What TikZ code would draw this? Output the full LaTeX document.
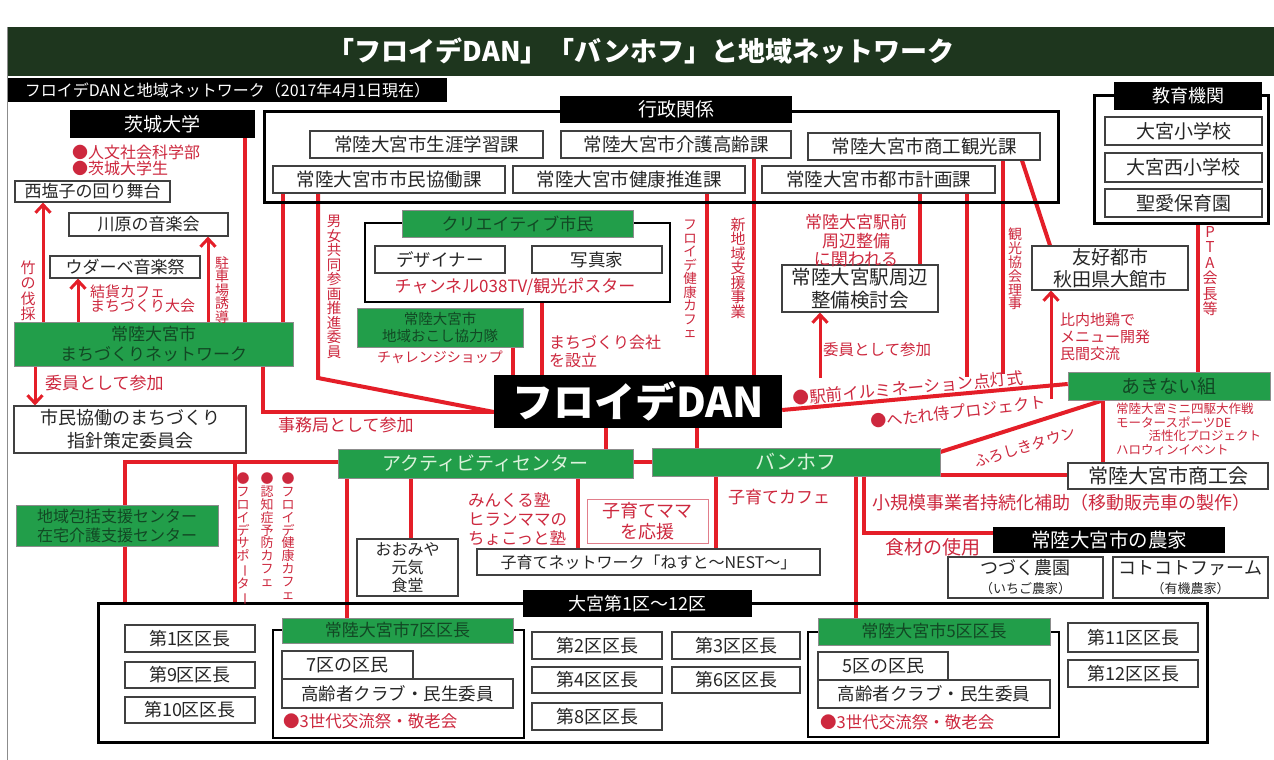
\documentclass[tikz,border=0pt]{standalone}
\usepackage{fontspec}
\setmainfont{Noto Sans CJK JP}
\usetikzlibrary{arrows.meta}
\definecolor{lred}{RGB}{228,30,40}
\definecolor{tred}{RGB}{205,40,62}
\definecolor{gfill}{RGB}{34,158,74}
\definecolor{gtext}{RGB}{18,72,36}
\definecolor{gtextl}{RGB}{220,242,220}
\definecolor{tgreen}{RGB}{30,54,30}
\pgfdeclarelayer{bg}
\pgfsetlayers{bg,main}
\newcommand{\fsz}[2]{\fontsize{#1}{#2}\selectfont}
\newcommand{\vb}{\rotatebox[origin=c]{-90}{ー}}
\newcommand{\rbox}[7]{\node[#1, minimum width={(#5-#3)*1pt}, minimum height={(#6-#4)*1pt}] (#2) at ({(#3+#5)/2},{(#4+#6)/2}) {#7};}
\begin{document}
\begin{tikzpicture}[x=1pt,y=-1pt,
 ibox/.style={draw=black!75, line width=1.1pt, fill=white, inner sep=0pt, align=center, text=black!85, font=\fsz{17}{20}},
 ibig/.style={ibox, font=\fsz{18.5}{21}},
 gbox/.style={draw=black!45, line width=0.6pt, fill=gfill, inner sep=0pt, align=center, text=gtext, font=\fsz{17}{20}},
 kbox/.style={fill=black, inner sep=0pt, align=center, text=white, font=\fsz{18}{20}},
 grp/.style={draw=black, line width=3pt, inner sep=0pt},
 rl/.style={draw=lred, line width=4pt},
 ra/.style={draw=lred, line width=3pt, -{Straight Barb[length=8pt,width=15pt]}},
 rt/.style={text=tred, inner sep=0pt, align=left, font=\fsz{16}{19}},
 vt/.style={text=tred, inner sep=0pt, align=center, font=\fsz{14}{14.5}}
]
\useasboundingbox (0,0) rectangle (1274,760);
\begin{pgfonlayer}{bg}
\fill[white] (0,0) rectangle (1274,760);
\end{pgfonlayer}
\draw[black!45, line width=1pt] (7,27) -- (7,760);
% title
\rbox{fill=tgreen, inner sep=0pt, text=white, font=\bfseries\fsz{27}{30}}{title}{8}{27}{1274}{76}{「フロイデDAN」「バンホフ」と地域ネットワーク}
\rbox{kbox, font=\fsz{16}{18}}{sub}{8}{78}{447}{102}{フロイデDANと地域ネットワーク（2017年4月1日現在）}
% Ibaraki
\rbox{kbox, font=\fsz{19}{21}}{ibaraki}{70}{110}{255}{138}{茨城大学}
\node[rt, anchor=west] (l_jinbun) at (72,152) {●人文社会科学部};
\node[rt, anchor=west] (l_gakusei) at (72,168) {●茨城大学生};
\rbox{ibox}{nishi}{15}{181}{170}{202}{西塩子の回り舞台}
\rbox{ibox}{kawa}{69}{213}{228}{236}{川原の音楽会}
\rbox{ibox}{uda}{50}{256}{200}{278}{ウダーベ音楽祭}
\rbox{gbox}{net}{14}{322}{293}{366}{常陸大宮市\\まちづくりネットワーク}
\rbox{ibox, font=\fsz{18}{23}}{shimin}{14}{406}{246}{453}{市民協働のまちづくり\\指針策定委員会}
% gyosei
\rbox{grp}{gyosei}{264}{111}{1058}{202}{}
\rbox{kbox, font=\fsz{19}{21}}{gtab}{560}{96}{792}{123}{行政関係}
\rbox{ibig}{shogai}{310}{131}{543}{158}{常陸大宮市生涯学習課}
\rbox{ibig}{kaigo}{561}{131}{791}{158}{常陸大宮市介護高齢課}
\rbox{ibig}{shoko}{808}{133}{1040}{160}{常陸大宮市商工観光課}
\rbox{ibig}{kyodo}{273}{166}{505}{193}{常陸大宮市市民協働課}
\rbox{ibig}{kenko}{513}{166}{745}{193}{常陸大宮市健康推進課}
\rbox{ibig}{toshi}{762}{166}{995}{193}{常陸大宮市都市計画課}
% kyoiku
\rbox{grp}{kyoiku}{1094}{95}{1268}{223}{}
\rbox{kbox, font=\fsz{18}{20}}{ktab}{1114}{82}{1262}{110}{教育機関}
\rbox{ibox, font=\fsz{19}{21}}{omiyasho}{1105}{117}{1262}{145}{大宮小学校}
\rbox{ibox, font=\fsz{19}{21}}{nishisho}{1105}{153}{1262}{182}{大宮西小学校}
\rbox{ibox, font=\fsz{19}{21}}{seiai}{1105}{189}{1262}{217}{聖愛保育園}
\rbox{ibox, font=\fsz{19}{22}}{yuko}{1032}{246}{1188}{290}{友好都市\\秋田県大館市}
\rbox{ibox, font=\fsz{19.5}{23}}{eki}{782}{265}{938}{312}{常陸大宮駅周辺\\整備検討会}
% creative
\rbox{grp, line width=2.5pt}{crea}{365}{223}{670}{302}{}
\rbox{gbox}{ctab}{402}{210}{633}{237}{クリエイティブ市民}
\rbox{ibox, font=\fsz{17.5}{20}}{designer}{375}{246}{505}{273}{デザイナー}
\rbox{ibox, font=\fsz{17.5}{20}}{photo}{532}{246}{662}{273}{写真家}
\node[rt, font=\fsz{17}{19}] (l_channel) at (515,287) {チャンネル038TV/観光ポスター};
\rbox{gbox, font=\fsz{14.5}{17}}{okoshi}{357}{308}{523}{347}{常陸大宮市\\地域おこし協力隊}
\node[rt, font=\fsz{14}{16}] (l_challenge) at (440,357) {チャレンジショップ};
% DAN
\rbox{kbox, font=\bfseries\fsz{41}{44}}{dan}{494}{375}{782}{428}{フロイデDAN}
\rbox{gbox, font=\fsz{19}{21}}{akinai}{1068}{372}{1270}{400}{あきない組}
\rbox{ibox, font=\fsz{20}{22}}{shokokai}{1068}{463}{1268}{489}{常陸大宮市商工会}
\rbox{kbox, font=\fsz{19.5}{22}}{noka}{993}{527}{1225}{553}{常陸大宮市の農家}
\rbox{ibox, font=\fsz{18}{19}}{tsuzuku}{948}{557}{1103}{598}{つづく農園\\\fsz{13}{15}（いちご農家）}
\rbox{ibox, font=\fsz{18}{19}}{kotokoto}{1113}{557}{1268}{598}{コトコトファーム\\\fsz{13}{15}（有機農家）}
\rbox{gbox, text=gtextl, font=\fsz{19}{21}}{act}{338}{449}{633}{478}{アクティビティセンター}
\rbox{gbox, text=gtextl, font=\fsz{20}{22}}{banhof}{652}{448}{940}{476}{バンホフ}
\rbox{gbox, font=\fsz{16}{19}}{hokatsu}{16}{505}{218}{546}{地域包括支援センター\\在宅介護支援センター}
\rbox{ibox, font=\fsz{16}{18}}{genki}{357}{539}{458}{596}{おおみや\\元気\\食堂}
\rbox{draw=tred!60, line width=0.8pt, fill=white, inner sep=0pt, align=center, text=tred, font=\fsz{18}{21}}{mama}{587}{499}{708}{543}{子育てママ\\を応援}
\rbox{ibox, font=\fsz{16}{18}}{kosodate}{477}{549}{820}{575}{子育てネットワーク「ねすと〜NEST〜」}
% districts
\rbox{grp}{omiya}{98}{603}{1207}{742}{}
\rbox{kbox, font=\fsz{18}{20}}{otab}{523}{590}{752}{617}{大宮第1区〜12区}
\rbox{ibox, font=\fsz{18}{20}}{k1}{125}{625}{255}{652}{第1区区長}
\rbox{ibox, font=\fsz{18}{20}}{k9}{125}{662}{255}{688}{第9区区長}
\rbox{ibox, font=\fsz{18}{20}}{k10}{125}{697}{255}{723}{第10区区長}
\rbox{grp, line width=2.5pt}{ku7}{273}{630}{524}{738}{}
\rbox{gbox, font=\fsz{17}{20}}{ku7tab}{282}{618}{513}{643}{常陸大宮市7区区長}
\rbox{ibox, font=\fsz{18}{20}}{ku7min}{282}{651}{413}{679}{7区の区民}
\rbox{ibox, font=\fsz{17.5}{20}}{ku7kou}{282}{679}{513}{708}{高齢者クラブ・民生委員}
\node[rt, anchor=west, font=\fsz{16.5}{19}] (l_fest7) at (283,721) {●3世代交流祭・敬老会};
\rbox{ibox, font=\fsz{18}{20}}{k2}{532}{632}{662}{659}{第2区区長}
\rbox{ibox, font=\fsz{18}{20}}{k3}{672}{632}{800}{659}{第3区区長}
\rbox{ibox, font=\fsz{18}{20}}{k4}{532}{667}{662}{693}{第4区区長}
\rbox{ibox, font=\fsz{18}{20}}{k6}{672}{667}{800}{693}{第6区区長}
\rbox{ibox, font=\fsz{18}{20}}{k8}{532}{703}{662}{730}{第8区区長}
\rbox{grp, line width=2.5pt}{ku5}{808}{632}{1059}{737}{}
\rbox{gbox, font=\fsz{17}{20}}{ku5tab}{818}{618}{1050}{645}{常陸大宮市5区区長}
\rbox{ibox, font=\fsz{18}{20}}{ku5min}{818}{652}{948}{680}{5区の区民}
\rbox{ibox, font=\fsz{17.5}{20}}{ku5kou}{818}{680}{1050}{708}{高齢者クラブ・民生委員}
\node[rt, anchor=west, font=\fsz{16.5}{19}] (l_fest5) at (820,722) {●3世代交流祭・敬老会};
\rbox{ibox, font=\fsz{18}{20}}{k11}{1068}{623}{1198}{652}{第11区区長}
\rbox{ibox, font=\fsz{18}{20}}{k12}{1068}{660}{1198}{687}{第12区区長}
% labels
\node[vt, font=\fsz{15}{15.5}] (l_take) at (28,291) {竹\\の\\伐\\採};
\node[rt, anchor=west, font=\fsz{15}{14.5}] (l_yuika) at (90,299) {結貨カフェ\\まちづくり大会};
\node[vt, font=\fsz{14}{13.5}] (l_chusha) at (222,290) {駐\\車\\場\\誘\\導};
\node[rt, anchor=west, font=\fsz{17}{19}] (l_iin1) at (45,383) {委員として参加};
\node[rt, anchor=west, font=\fsz{17}{19}] (l_jimu) at (278,425) {事務局として参加};
\node[vt, font=\fsz{14.5}{14.5}] (l_danjo) at (334,287) {男\\女\\共\\同\\参\\画\\推\\進\\委\\員};
\node[rt, anchor=west, font=\fsz{16}{18}] (l_kaisha) at (549,351) {まちづくり会社\\を設立};
\node[vt, font=\fsz{13.5}{13.5}] (l_kcafe) at (690,279) {フ\\ロ\\イ\\デ\\健\\康\\カ\\フ\\ェ};
\node[vt, font=\fsz{15}{14.5}] (l_shinchiiki) at (738,268) {新\\地\\域\\支\\援\\事\\業};
\node[rt, align=center, font=\fsz{17}{18.5}] (l_ekimae) at (856,241) {常陸大宮駅前\\周辺整備\\に関われる};
\node[rt, anchor=west, font=\fsz{15.5}{18}] (l_iin2) at (823,350) {委員として参加};
\node[vt, font=\fsz{14}{13.8}] (l_kanko) at (1015,269) {観\\光\\協\\会\\理\\事};
\node[vt, font=\fsz{15}{15.5}] (l_pta) at (1210,271) {P\\T\\A\\会\\長\\等};
\node[rt, rotate=5.2, font=\fsz{16.5}{19}] (l_illum) at (908,388) {●駅前イルミネーション点灯式};
\node[rt, rotate=6.5, font=\fsz{16}{19}] (l_hetare) at (958,412) {●へたれ侍プロジェクト};
\node[rt, rotate=17, font=\fsz{15}{18}] (l_furo) at (1025,447) {ふろしきタウン};
\node[rt, anchor=west, font=\fsz{15}{17}] (l_hinai) at (1060,337) {比内地鶏で\\メニュー開発\\民間交流};
\node[rt, anchor=north west, font=\fsz{12.5}{13.5}] (l_mini4) at (1116,403) {常陸大宮ミニ四駆大作戦\\モータースポーツDE\\\hspace{2.6em}活性化プロジェクト\\ハロウィンイベント};
\node[rt, anchor=west, font=\fsz{18}{20}] (l_shokibo) at (872,503) {小規模事業者持続化補助（移動販売車の製作）};
\node[rt, anchor=west, font=\fsz{19}{20}] (l_shokuzai) at (885,547) {食材の使用};
\node[rt, anchor=west, font=\fsz{16.5}{19}] (l_minkuru) at (468,519) {みんくる塾\\ヒランママの\\ちょこっと塾};
\node[rt, anchor=west, font=\fsz{17}{19}] (l_kcafe2) at (728,497) {子育てカフェ};
\node[vt, anchor=north, font=\fsz{13}{12.8}] (l_support) at (243,473) {●\\フ\\ロ\\イ\\デ\\サ\\ポ\\\vb\\タ\\\vb};
\node[vt, anchor=north, font=\fsz{13}{12.8}] (l_ninchi) at (267,473) {●\\認\\知\\症\\予\\防\\カ\\フ\\ェ};
\node[vt, anchor=north, font=\fsz{13}{12.8}] (l_kcafe3) at (288,473) {●\\フ\\ロ\\イ\\デ\\健\\康\\カ\\フ\\ェ};
\coordinate (a_eki) at (820,378);
\coordinate (a_hinai) at (1051,399);
\coordinate (e_toshi) at (967,377);
\coordinate (e_shoko) at (1003,374);
% connectors
\begin{pgfonlayer}{bg}
\draw[ra] (net.north -| 43,0) -- (nishi.south -| 43,0);
\draw[ra] (net.north -| 78,0) -- (uda.south -| 78,0);
\draw[ra] (net.north -| 208,0) -- (kawa.south -| 208,0);
\draw[rl] (ibaraki.south -| 245,0) -- (net.north -| 245,0);
\draw[rl] (kyodo.south -| 283,0) -- (net.north -| 283,0);
\draw[rl] (kyodo.south -| 318,0) -- (318,378) -- (dan.west |- 0,412);
\draw[rl] (net.south -| 263,0) -- (263,412) -- (dan.west |- 0,412);
\draw[ra] (net.south -| 35,0) -- (shimin.north -| 35,0);
\draw[rl] (okoshi.south -| 513,0) -- (dan.north -| 513,0);
\draw[rl] (crea.south -| 542,0) -- (dan.north -| 542,0);
\draw[rl] (kenko.south -| 707,0) -- (dan.north -| 707,0);
\draw[rl] (kaigo.south -| 754,0) -- (dan.north -| 754,0);
\draw[rl] (toshi.south -| 920,0) -- (eki.north -| 920,0);
\draw[ra] (a_eki) -- (eki.south -| 820,0);
\draw[rl] (dan.east |- 0,410) -- (akinai.west |- 0,384);
\draw[rl] (toshi.south -| 967,0) -- (e_toshi);
\draw[rl] (shoko.south -| 1003,0) -- (e_shoko);
\draw[rl] (shoko.south -| 1022,0) -- (yuko.north -| 1050,0);
\draw[ra] (a_hinai) -- (yuko.south -| a_hinai);
\draw[rl] (kyoiku.south -| 1198,0) -- (akinai.north -| 1198,0);
\draw[rl] (banhof.east |- 0,452) -- (akinai.south -| 1103,0);
\draw[rl] (akinai.south -| 1103,0) -- (shokokai.north -| 1103,0);
\draw[rl] (banhof.east |- 0,475) -- (shokokai.west |- 0,475);
\draw[rl] (dan.south -| 606,0) -- (act.north -| 606,0);
\draw[rl] (dan.south -| 697,0) -- (banhof.north -| 697,0);
\draw[rl] (act.east |- 0,462) -- (banhof.west |- 0,462);
\draw[rl] (act.west |- 0,462) -- (125,462) -- (omiya.north -| 125,0);
\draw[rl] (235,462) -- (omiya.north -| 235,0);
\draw[rl] (act.south -| 347,0) -- (ku7tab.north -| 347,0);
\draw[rl] (act.south -| 411,0) -- (genki.north -| 411,0);
\draw[rl] (act.south -| 578,0) -- (kosodate.north -| 578,0);
\draw[rl] (banhof.south -| 716,0) -- (kosodate.north -| 716,0);
\draw[rl] (banhof.south -| 856,0) -- (ku5tab.north -| 856,0);
\draw[rl] (banhof.south -| 864,0) -- (864,533) -- (noka.west |- 0,533);
\end{pgfonlayer}
\end{tikzpicture}
\end{document}
